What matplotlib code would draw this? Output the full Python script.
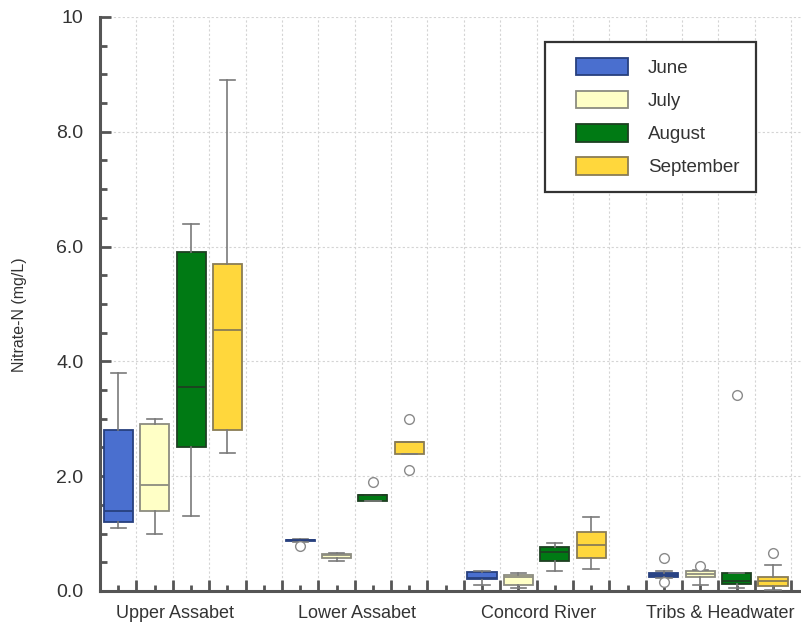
import matplotlib
matplotlib.use('Agg')
import matplotlib.pyplot as plt
from matplotlib.patches import Patch, Rectangle
from matplotlib.legend_handler import HandlerPatch
from matplotlib.ticker import MultipleLocator, FixedLocator, FuncFormatter

plt.rcParams['font.family'] = ['Liberation Sans', 'DejaVu Sans']

groups = ['Upper Assabet', 'Lower Assabet', 'Concord River', 'Tribs & Headwater']
months = ['June', 'July', 'August', 'September']

# per group: [whisker low, q1, median, q3, whisker high]
june_stats = [[1.1, 1.2, 1.4, 2.8, 3.8],
              [0.86, 0.87, 0.88, 0.89, 0.90],
              [0.10, 0.20, 0.22, 0.33, 0.35],
              [0.22, 0.24, 0.28, 0.31, 0.35]]
june_fliers = [[], [0.78], [], [0.57, 0.16]]

july_stats = [[1.0, 1.4, 1.85, 2.9, 3.0],
              [0.52, 0.57, 0.62, 0.64, 0.66],
              [0.05, 0.10, 0.24, 0.28, 0.32],
              [0.10, 0.25, 0.30, 0.34, 0.36]]
july_fliers = [[], [], [], [0.43]]

august_stats = [[1.3, 2.5, 3.55, 5.9, 6.4],
                [1.57, 1.57, 1.68, 1.68, 1.68],
                [0.35, 0.52, 0.68, 0.77, 0.83],
                [0.05, 0.12, 0.18, 0.31, 0.32]]
august_fliers = [[], [1.9], [], [3.42]]

september_stats = [[2.4, 2.8, 4.55, 5.7, 8.9],
                   [2.38, 2.38, 2.59, 2.59, 2.59],
                   [0.39, 0.57, 0.80, 1.03, 1.28],
                   [0.02, 0.09, 0.17, 0.24, 0.45]]
september_fliers = [[], [3.0, 2.1], [], [0.66]]

fills = ['#4a6fcf', '#ffffc6', '#007a14', '#ffd73c']
edges = ['#27407e', '#8c8c80', '#1e4022', '#8a7d55']

all_stats = [june_stats, july_stats, august_stats, september_stats]
all_fliers = [june_fliers, july_fliers, august_fliers, september_fliers]

fig = plt.figure(figsize=(8.01, 6.28), dpi=100)
ax = fig.add_axes([0.125, 0.059, 0.875, 0.914])

# grid first so boxes sit on top
for y in range(0, 11, 2):
    ax.axhline(y, color='#d4d4d4', lw=0.8, ls=(0, (2, 2)), zorder=0)
for k in range(19):
    ax.axvline(k + 0.5, color='#d4d4d4', lw=0.8, ls=(0, (2, 2)), zorder=0)

for m in range(4):
    stats = []
    pos = []
    for g in range(4):
        lo, q1, med, q3, hi = all_stats[m][g]
        stats.append({'whislo': lo, 'q1': q1, 'med': med, 'q3': q3,
                      'whishi': hi, 'fliers': all_fliers[m][g]})
        pos.append(g * 5 + m)
    ax.bxp(stats, positions=pos, widths=0.8, capwidths=0.42, patch_artist=True,
           boxprops=dict(facecolor=fills[m], edgecolor=edges[m], linewidth=1.3),
           medianprops=dict(color=edges[m], linewidth=1.3),
           whiskerprops=dict(color='#7a7a7a', linewidth=1.2),
           capprops=dict(color='#7a7a7a', linewidth=1.2),
           flierprops=dict(marker='o', markersize=7, markerfacecolor='white',
                           markeredgecolor='#8a8a8a', markeredgewidth=1.0),
           manage_ticks=False, zorder=3)

ax.set_xlim(-0.5, 18.77)
ax.set_ylim(0, 10)

for s in ['top', 'right']:
    ax.spines[s].set_visible(False)
for s in ['left', 'bottom']:
    ax.spines[s].set_linewidth(2.2)
    ax.spines[s].set_color('#555555')

ax.yaxis.set_major_locator(MultipleLocator(2))
ax.yaxis.set_minor_locator(MultipleLocator(0.5))
ax.yaxis.set_major_formatter(FuncFormatter(lambda v, p: '10' if v >= 10 else '%.1f' % v))
ax.tick_params(axis='y', which='major', direction='in', length=8, width=2,
               color='#555555', labelsize=14, labelcolor='#333333', pad=12)
ax.tick_params(axis='y', which='minor', direction='in', length=5, width=2,
               color='#555555')

ax.xaxis.set_major_locator(FixedLocator([k + 0.5 for k in range(-1, 19)]))
ax.xaxis.set_minor_locator(FixedLocator(list(range(19))))
ax.tick_params(axis='x', which='major', direction='in', length=8, width=2,
               color='#555555', labelbottom=False)
ax.tick_params(axis='x', which='minor', direction='in', length=4, width=2,
               color='#555555')

for g, name in enumerate(groups):
    ax.text(g * 5 + 1.55, -0.25, name, ha='center', va='top', fontsize=13,
            color='#333333', transform=ax.transData, clip_on=False)

ax.set_ylabel('Nitrate-N (mg/L)', fontsize=11.5, color='#333333')
ax.yaxis.set_label_coords(-0.104, 0.481)


# legend swatch pushed a bit to the right inside the frame
def swatch(legend, orig_handle, xdescent, ydescent, width, height, fontsize):
    return Rectangle((-xdescent + 11, -ydescent), width - 11, height)


handles = [Patch(facecolor=fills[i], edgecolor=edges[i], linewidth=1.3, label=months[i])
           for i in range(4)]
leg = ax.legend(handles=handles, loc='upper left', bbox_to_anchor=(545 / 801, 1 - 42 / 628),
                bbox_transform=fig.transFigure, fontsize=13.5, handlelength=3.6,
                handleheight=1.05, labelspacing=0.75, borderpad=0.85, handletextpad=1.05,
                borderaxespad=0, fancybox=False, framealpha=1,
                handler_map={Patch: HandlerPatch(patch_func=swatch)})
leg.get_frame().set_edgecolor('#333333')
leg.get_frame().set_linewidth(1.6)
for t in leg.get_texts():
    t.set_color('#333333')

fig.savefig('out.png', dpi=100)
